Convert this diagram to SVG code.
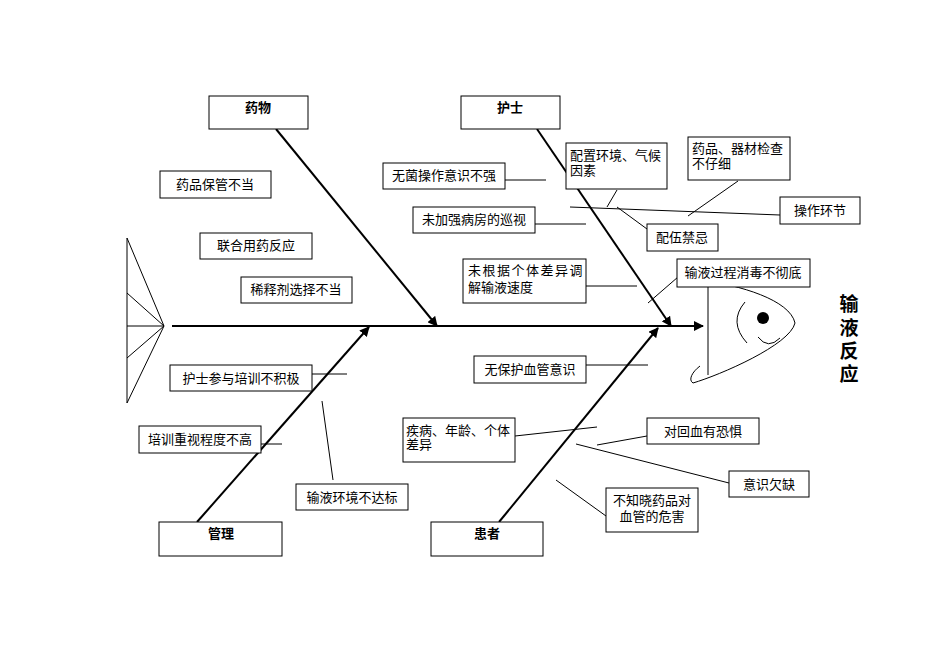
<svg xmlns="http://www.w3.org/2000/svg" width="950" height="672" viewBox="0 0 950 672">
<style>
.b{fill:#fff;stroke:#000;stroke-width:1}
.t{font-family:"Liberation Sans","Noto Sans CJK SC",sans-serif;font-size:13px;fill:#000}
.h{font-family:"Liberation Sans","Noto Sans CJK SC",sans-serif;font-size:13px;font-weight:bold;fill:#000}
.l{stroke:#000;stroke-width:1;fill:none}
.m{stroke:#000;stroke-width:2;fill:none}
</style>
<defs><marker id="a" viewBox="0 0 10 10" refX="9" refY="5" markerWidth="5" markerHeight="5" orient="auto"><path d="M0,0L10,5L0,10z"/></marker></defs>
<rect width="950" height="672" fill="#fff"/>
<g id="connectors">
<line class="m" x1="172" y1="326" x2="703" y2="326" stroke-width="2.5" marker-end="url(#a)"/>
<line class="m" x1="276" y1="129" x2="437" y2="326" marker-end="url(#a)"/>
<line class="m" x1="537" y1="129" x2="671" y2="326" marker-end="url(#a)"/>
<line class="m" x1="197" y1="522" x2="369" y2="327" marker-end="url(#a)"/>
<line class="m" x1="499" y1="522" x2="658" y2="328" marker-end="url(#a)"/>
<line class="l" x1="505" y1="180" x2="546" y2="180"/>
<line class="l" x1="535" y1="224" x2="586" y2="224"/>
<line class="l" x1="586" y1="286" x2="637" y2="286"/>
<line class="l" x1="570" y1="207" x2="780" y2="215"/>
<line class="l" x1="617" y1="190" x2="607" y2="207"/>
<line class="l" x1="617" y1="207" x2="647" y2="229"/>
<line class="l" x1="738" y1="181" x2="688" y2="216"/>
<line class="l" x1="678" y1="277" x2="648" y2="303"/>
<line class="l" x1="586" y1="365" x2="648" y2="365"/>
<line class="l" x1="515" y1="436" x2="597" y2="427"/>
<line class="l" x1="647" y1="436" x2="597" y2="445"/>
<line class="l" x1="729" y1="483" x2="576" y2="444"/>
<line class="l" x1="606" y1="516" x2="556" y2="480"/>
<line class="l" x1="312" y1="374" x2="347" y2="374"/>
<line class="l" x1="261" y1="444" x2="282" y2="444"/>
<line class="l" x1="333" y1="480" x2="322" y2="401"/>
</g>
<g id="tail" class="l">
<line class="l" x1="127" y1="238" x2="127" y2="403"/>
<polyline class="l" points="127,238 164,326 127,293"/>
<polyline class="l" points="127,326 164,326 127,358"/>
<line class="l" x1="164" y1="326" x2="127" y2="403"/>
</g>
<g id="head">
<line class="l" x1="708" y1="280" x2="708" y2="375"/>
<path class="l" d="M700,280 C740,285 790,300 795,323 C790,345 720,375 693,383 C688,380 692,372 700,366"/>
<circle cx="763" cy="318" r="6"/>
<path class="l" d="M745,302 Q728,322 747,343"/>
<path class="l" d="M758,337 Q768,350 780,338"/>
</g>
<g id="n1"><rect class="b" x="209" y="96" width="99" height="33"/><text class="h" x="258" y="112" text-anchor="middle">药物</text></g>
<g id="n2"><rect class="b" x="461" y="96" width="99" height="33"/><text class="h" x="510" y="112" text-anchor="middle">护士</text></g>
<g id="n3"><rect class="b" x="159" y="522" width="123" height="34"/><text class="h" x="221" y="538" text-anchor="middle">管理</text></g>
<g id="n4"><rect class="b" x="431" y="522" width="112" height="34"/><text class="h" x="487" y="538" text-anchor="middle">患者</text></g>
<g id="n5"><rect class="b" x="160" y="171" width="111" height="27"/><text class="t" x="215" y="189" text-anchor="middle">药品保管不当</text></g>
<g id="n6"><rect class="b" x="200" y="233" width="112" height="26"/><text class="t" x="256" y="250" text-anchor="middle">联合用药反应</text></g>
<g id="n7"><rect class="b" x="241" y="277" width="111" height="26"/><text class="t" x="296" y="294" text-anchor="middle">稀释剂选择不当</text></g>
<g id="n8"><rect class="b" x="383" y="163" width="122" height="26"/><text class="t" x="444" y="180" text-anchor="middle">无菌操作意识不强</text></g>
<g id="n9"><rect class="b" x="413" y="207" width="122" height="26"/><text class="t" x="474" y="224" text-anchor="middle">未加强病房的巡视</text></g>
<g id="n10"><rect class="b" x="463" y="259" width="123" height="44"/><text class="t" x="468" y="275" letter-spacing="1.5">未根据个体差异调</text><text class="t" x="468" y="292">解输液速度</text></g>
<g id="n11"><rect class="b" x="566" y="143" width="101" height="46"/><text class="t" x="570" y="160">配置环境、气候</text><text class="t" x="570" y="175">因素</text></g>
<g id="n12"><rect class="b" x="688" y="137" width="102" height="43"/><text class="t" x="692" y="153">药品、器材检查</text><text class="t" x="692" y="168">不仔细</text></g>
<g id="n13"><rect class="b" x="780" y="197" width="80" height="27"/><text class="t" x="820" y="215" text-anchor="middle">操作环节</text></g>
<g id="n14"><rect class="b" x="647" y="224" width="71" height="27"/><text class="t" x="682" y="242" text-anchor="middle">配伍禁忌</text></g>
<g id="n15"><rect class="b" x="677" y="259" width="133" height="28"/><text class="t" x="743" y="277" text-anchor="middle">输液过程消毒不彻底</text></g>
<g id="n16"><rect class="b" x="474" y="356" width="112" height="27"/><text class="t" x="530" y="374" text-anchor="middle">无保护血管意识</text></g>
<g id="n17"><rect class="b" x="403" y="418" width="112" height="44"/><text class="t" x="406" y="435">疾病、年龄、个体</text><text class="t" x="406" y="449">差异</text></g>
<g id="n18"><rect class="b" x="647" y="418" width="112" height="26"/><text class="t" x="703" y="436" text-anchor="middle">对回血有恐惧</text></g>
<g id="n19"><rect class="b" x="729" y="471" width="80" height="26"/><text class="t" x="769" y="489" text-anchor="middle">意识欠缺</text></g>
<g id="n20"><rect class="b" x="606" y="488" width="92" height="44"/><text class="t" x="652" y="505" text-anchor="middle">不知晓药品对</text><text class="t" x="652" y="521" text-anchor="middle">血管的危害</text></g>
<g id="n21"><rect class="b" x="170" y="365" width="142" height="26"/><text class="t" x="241" y="383" text-anchor="middle">护士参与培训不积极</text></g>
<g id="n22"><rect class="b" x="139" y="426" width="122" height="27"/><text class="t" x="200" y="444" text-anchor="middle">培训重视程度不高</text></g>
<g id="n23"><rect class="b" x="296" y="484" width="112" height="26"/><text class="t" x="352" y="502" text-anchor="middle">输液环境不达标</text></g>
<g id="title" font-family="'Liberation Sans','Noto Sans CJK SC',sans-serif" font-size="19" font-weight="bold" text-anchor="middle">
<text x="849" y="311">输</text><text x="849" y="335">液</text><text x="849" y="358">反</text><text x="849" y="381">应</text>
</g>
</svg>
